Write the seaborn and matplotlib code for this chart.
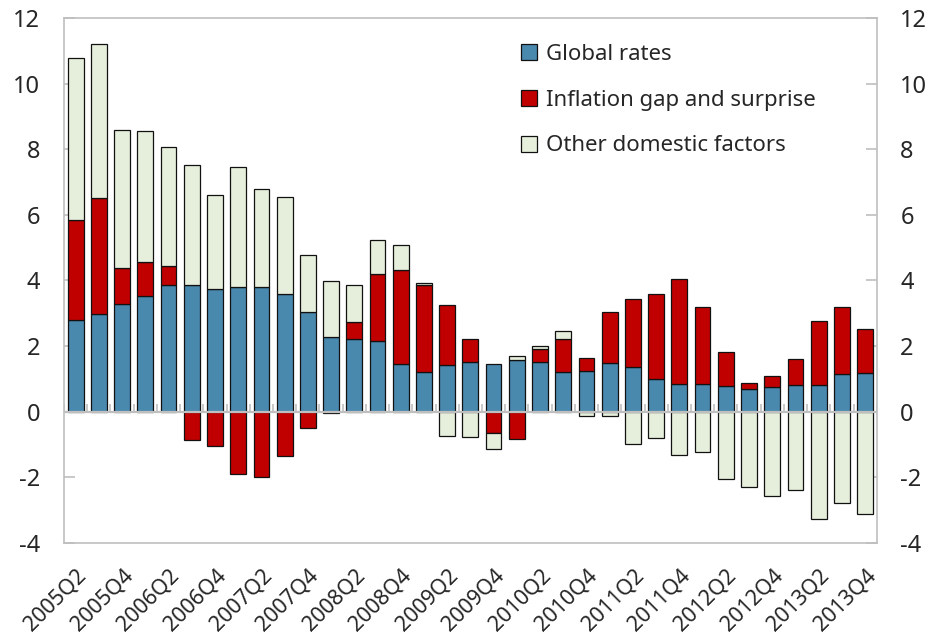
import numpy as np
import pandas as pd
import matplotlib
matplotlib.use('Agg')
import matplotlib.pyplot as plt
import seaborn as sns

sns.set_style("white")
plt.rcParams["font.family"] = ["Noto Sans", "DejaVu Sans"]
plt.rcParams["axes.unicode_minus"] = False

# quarters 2005Q2 .. 2013Q4
quarters = [f"{y}Q{q}" for y in range(2005, 2014) for q in range(1, 5)][1:]

global_rates = [2.78, 2.99, 3.28, 3.52, 3.85, 3.86, 3.74, 3.80, 3.80, 3.58,
                3.03, 2.28, 2.21, 2.15, 1.45, 1.21, 1.42, 1.51, 1.45, 1.57,
                1.51, 1.21, 1.24, 1.47, 1.35, 1.00, 0.85, 0.85, 0.79, 0.70,
                0.74, 0.82, 0.82, 1.14, 1.17]
inflation_gap = [3.05, 3.52, 1.11, 1.04, 0.60, -0.85, -1.06, -1.89, -2.00, -1.34,
                 -0.49, -0.05, 0.53, 2.04, 2.87, 2.64, 1.82, 0.71, -0.65, -0.83,
                 0.40, 1.02, 0.39, 1.56, 2.08, 2.58, 3.19, 2.35, 1.03, 0.16,
                 0.36, 0.78, 1.95, 2.06, 1.35]
other_domestic = [4.95, 4.70, 4.20, 3.99, 3.61, 3.67, 2.87, 3.67, 2.99, 2.97,
                  1.76, 1.70, 1.11, 1.03, 0.77, 0.06, -0.73, -0.77, -0.48, 0.12,
                  0.10, 0.24, -0.12, -0.12, -0.98, -0.80, -1.33, -1.23, -2.04, -2.31,
                  -2.57, -2.40, -3.26, -2.78, -3.11]

series = ["Global rates", "Inflation gap and surprise", "Other domestic factors"]
colors = ["#4a89ae", "#c00000", "#e6eedc"]

df = pd.DataFrame(dict(zip(series, [global_rates, inflation_gap, other_domestic])),
                  index=quarters)

fig = plt.figure(figsize=(9.32, 6.44), dpi=100)
ax = fig.add_axes([0.0687, 0.157, 0.872, 0.815])

# positive parts stack upward, negative parts stack downward
pos = np.zeros(len(df))
neg = np.zeros(len(df))
for name, col in zip(series, colors):
    v = df[name].to_numpy()
    bottom = np.where(v >= 0, pos, neg)
    sns.barplot(x=quarters, y=v, bottom=bottom, color=col, saturation=1,
                width=0.68, edgecolor="#111111", linewidth=0.9, label=name,
                ax=ax, zorder=2)
    pos += np.clip(v, 0, None)
    neg += np.clip(v, None, 0)

grey = "#bfbfbf"
ax.axhline(0, color=grey, lw=1.6, zorder=3)
ax.vlines(np.arange(-0.5, len(quarters)), 0, 0.22, color=grey, lw=1.2, zorder=3)

ax.set_xlim(-0.5, len(quarters) - 0.5)
ax.set_ylim(-4, 12)
ax.set_yticks(np.arange(-4, 13, 2))
ax.tick_params(axis="y", direction="in", length=8, color=grey, width=1.2,
               labelsize=17, pad=17, left=True, right=True, labelright=True)
ax.set_xticks(np.arange(0, len(quarters), 2))
ax.set_xticklabels(quarters[::2], rotation=45, ha="right", rotation_mode="anchor",
                   fontsize=15.5)
ax.tick_params(axis="x", length=0, pad=16)
ax.set_xlabel("")
ax.set_ylabel("")
for s in ax.spines.values():
    s.set_color(grey)
    s.set_linewidth(1.2)

ax.legend(loc="upper left", bbox_to_anchor=(0.551, 0.968), frameon=False,
          fontsize=16, handlelength=0.75, handleheight=0.75, handletextpad=0.4,
          labelspacing=1.12, borderaxespad=0)

fig.savefig("out.png", dpi=100)
